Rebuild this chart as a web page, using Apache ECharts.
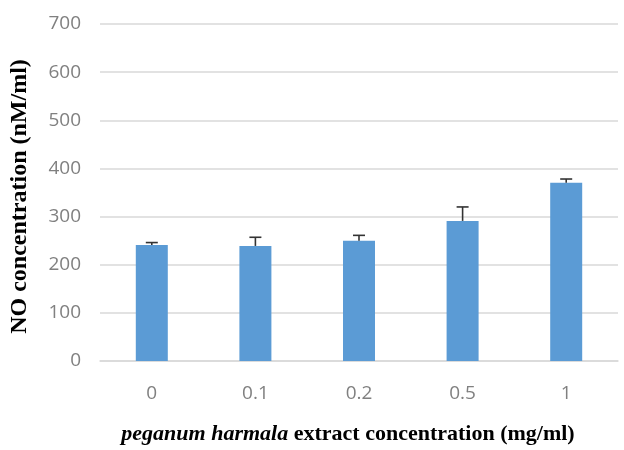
<!DOCTYPE html>
<html>
<head>
<meta charset="utf-8">
<script src="https://cdn.jsdelivr.net/npm/echarts@6/dist/echarts.min.js"></script>
<style>html,body{margin:0;padding:0;background:#fff}#c{width:624px;height:450px}</style>
</head>
<body>
<div id="c"></div>
<script>
var categories = ['0', '0.1', '0.2', '0.5', '1'];
var values = [241, 239, 250, 291, 370];
var errors = [5, 18, 11, 29, 8];
var yTicks = [0, 100, 200, 300, 400, 500, 600, 700];

var errData = categories.map(function (c, i) { return [i, values[i], errors[i]]; });

var chart = echarts.init(document.getElementById('c'));
chart.setOption({
  animation: false,
  grid: { left: 100, right: 6, top: 24, bottom: 86 },
  xAxis: {
    type: 'category',
    data: categories,
    axisLine: { lineStyle: { color: '#d9d9d9', width: 1.5 } },
    axisTick: { show: false },
    axisLabel: { color: '#808080', fontSize: 19, fontFamily: 'Open Sans', margin: 23 },
    name: '{i|peganum harmala}{b| extract concentration (mg/ml)}',
    nameLocation: 'middle',
    nameGap: 62,
    nameTextStyle: {
      padding: [0, 22, 0, 0],
      rich: {
        i: { fontFamily: 'Liberation Serif', fontWeight: 'bold', fontStyle: 'italic', fontSize: 22, color: '#000' },
        b: { fontFamily: 'Liberation Serif', fontWeight: 'bold', fontSize: 22, color: '#000' }
      }
    }
  },
  yAxis: {
    type: 'value',
    min: yTicks[0],
    max: yTicks[yTicks.length - 1],
    interval: 100,
    axisLine: { show: false },
    axisTick: { show: false },
    splitLine: { lineStyle: { color: '#d9d9d9', width: 1.5 } },
    axisLabel: { color: '#808080', fontSize: 19, fontFamily: 'Open Sans', margin: 19 },
    name: 'NO concentration (nM/ml)',
    nameLocation: 'middle',
    nameGap: 68,
    nameTextStyle: { fontFamily: 'Liberation Serif', fontWeight: 'bold', fontSize: 24, color: '#000', padding: [0, 8, 0, 0] }
  },
  series: [
    {
      type: 'bar',
      data: values,
      barWidth: 32,
      itemStyle: { color: '#5B9BD5' }
    },
    {
      type: 'custom',
      data: errData,
      z: 10,
      renderItem: function (params, api) {
        var x = api.value(0), v = api.value(1), e = api.value(2);
        var top = api.coord([x, v + e]);
        var base = api.coord([x, v]);
        var cap = 6;
        var style = { stroke: '#333', lineWidth: 1.6 };
        return {
          type: 'group',
          children: [
            { type: 'line', shape: { x1: base[0], y1: base[1], x2: top[0], y2: top[1] }, style: style },
            { type: 'line', shape: { x1: top[0] - cap, y1: top[1], x2: top[0] + cap, y2: top[1] }, style: style }
          ]
        };
      }
    }
  ]
});
</script>
</body>
</html>
